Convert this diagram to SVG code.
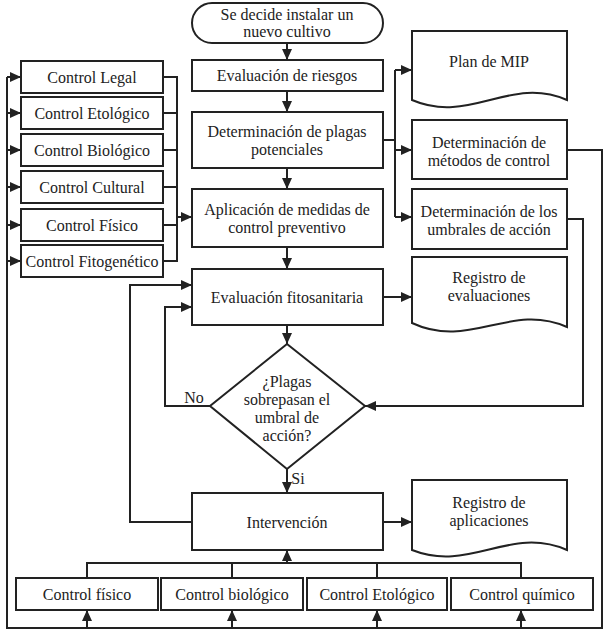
<svg xmlns="http://www.w3.org/2000/svg" width="608" height="634" viewBox="0 0 608 634">
<defs>
<marker id="ah" markerUnits="userSpaceOnUse" markerWidth="12" markerHeight="10" refX="11" refY="5" orient="auto">
<path d="M0,0 L11,5 L0,10 Z" fill="#222"/>
</marker>
<style>
.b{fill:#fff;stroke:#222;stroke-width:2}
.t{font-family:"Liberation Serif","Times New Roman",Tinos,"Noto Serif","DejaVu Serif",serif;font-size:16px;fill:#222;text-anchor:middle}
.c{fill:none;stroke:#222;stroke-width:2}
.a{fill:none;stroke:#222;stroke-width:2;marker-end:url(#ah)}
</style>
</defs>
<rect width="608" height="634" fill="#fff"/>

<g id="connectors">
<line class="a" x1="287" y1="43" x2="287" y2="60"/>
<line class="a" x1="287" y1="91" x2="287" y2="112"/>
<line class="a" x1="287" y1="168" x2="287" y2="189"/>
<line class="a" x1="287" y1="247" x2="287" y2="269"/>
<line class="a" x1="287" y1="325" x2="287" y2="344"/>
<line class="a" x1="287" y1="469" x2="287" y2="493"/>
<path class="c" d="M163,77 H177 V261 H163 M163,113 H177 M163,150 H177 M163,187 H177 M163,225 H177"/>
<line class="a" x1="177" y1="217" x2="192" y2="217"/>
<path class="c" d="M383,140 H395 M395,70 V217"/>
<line class="a" x1="395" y1="70" x2="412" y2="70"/>
<line class="a" x1="395" y1="150" x2="412" y2="150"/>
<line class="a" x1="395" y1="217" x2="412" y2="217"/>
<path class="a" d="M567,219 H583 V406 H365"/>
<line class="a" x1="383" y1="297" x2="412" y2="297"/>
<line class="a" x1="383" y1="522" x2="412" y2="522"/>
<path class="a" d="M210,406 H165 V307 H192"/>
<path class="a" d="M192,522 H130 V285 H192"/>
<path class="c" d="M87,578 V563 H521 V578 M232,578 V563 M377,578 V563"/>
<line class="a" x1="287" y1="563" x2="287" y2="550"/>
<path class="c" d="M567,150 H602 V628 H7 V77"/>
<line class="a" x1="7" y1="77" x2="21" y2="77"/>
<line class="a" x1="7" y1="113" x2="21" y2="113"/>
<line class="a" x1="7" y1="150" x2="21" y2="150"/>
<line class="a" x1="7" y1="187" x2="21" y2="187"/>
<line class="a" x1="7" y1="225" x2="21" y2="225"/>
<line class="a" x1="7" y1="261" x2="21" y2="261"/>
<line class="a" x1="87" y1="628" x2="87" y2="610"/>
<line class="a" x1="232" y1="628" x2="232" y2="610"/>
<line class="a" x1="377" y1="628" x2="377" y2="610"/>
<line class="a" x1="521" y1="628" x2="521" y2="610"/>
<text class="t" x="194" y="403">No</text>
<text class="t" x="298" y="484">Si</text>
</g>

<g id="start">
<rect class="b" x="192" y="3" width="191" height="40" rx="20" ry="20"/>
<text class="t" x="287" y="20">Se decide instalar un</text>
<text class="t" x="287" y="37">nuevo cultivo</text>
</g>
<g id="riesgos">
<rect class="b" x="192" y="60" width="191" height="31"/>
<text class="t" x="287" y="81">Evaluación de riesgos</text>
</g>
<g id="plagas">
<rect class="b" x="192" y="112" width="191" height="56"/>
<text class="t" x="287" y="137">Determinación de plagas</text>
<text class="t" x="287" y="155">potenciales</text>
</g>
<g id="aplicacion">
<rect class="b" x="192" y="189" width="191" height="58"/>
<text class="t" x="287" y="215">Aplicación de medidas de</text>
<text class="t" x="287" y="233">control preventivo</text>
</g>
<g id="evaluacion">
<rect class="b" x="192" y="269" width="191" height="56"/>
<text class="t" x="287" y="303">Evaluación fitosanitaria</text>
</g>
<g id="decision">
<polygon class="b" points="287,344 365,406 287,469 210,406"/>
<text class="t" x="287" y="387">¿Plagas</text>
<text class="t" x="287" y="405">sobrepasan el</text>
<text class="t" x="287" y="423">umbral de</text>
<text class="t" x="287" y="441">acción?</text>
</g>
<g id="intervencion">
<rect class="b" x="192" y="493" width="191" height="57"/>
<text class="t" x="287" y="528">Intervención</text>
</g>

<g id="c-legal"><rect class="b" x="21" y="61" width="142" height="32"/><text class="t" x="92" y="83">Control Legal</text></g>
<g id="c-etologico"><rect class="b" x="21" y="97" width="142" height="32"/><text class="t" x="92" y="119">Control Etológico</text></g>
<g id="c-biologico"><rect class="b" x="21" y="134" width="142" height="32"/><text class="t" x="92" y="156">Control Biológico</text></g>
<g id="c-cultural"><rect class="b" x="21" y="171" width="142" height="32"/><text class="t" x="92" y="193">Control Cultural</text></g>
<g id="c-fisico"><rect class="b" x="21" y="209" width="142" height="32"/><text class="t" x="92" y="231">Control Físico</text></g>
<g id="c-fitogenetico"><rect class="b" x="21" y="245" width="142" height="32"/><text class="t" x="92" y="267">Control Fitogenético</text></g>

<g id="plan-mip">
<path class="b" d="M412,31 H567 V100 C510,75 470,125 412,100 Z"/>
<text class="t" x="489" y="67">Plan de MIP</text>
</g>
<g id="metodos">
<rect class="b" x="412" y="120" width="155" height="59"/>
<text class="t" x="489" y="148">Determinación de</text>
<text class="t" x="489" y="166">métodos de control</text>
</g>
<g id="umbrales">
<rect class="b" x="412" y="189" width="155" height="60"/>
<text class="t" x="489" y="217">Determinación de los</text>
<text class="t" x="489" y="235">umbrales de acción</text>
</g>
<g id="reg-eval">
<path class="b" d="M412,257 H567 V327 C510,302 470,350 412,323 Z"/>
<text class="t" x="489" y="283">Registro de</text>
<text class="t" x="489" y="301">evaluaciones</text>
</g>
<g id="reg-apl">
<path class="b" d="M412,480 H567 V550 C510,525 470,573 412,550 Z"/>
<text class="t" x="489" y="508">Registro de</text>
<text class="t" x="489" y="526">aplicaciones</text>
</g>

<g id="b-fisico"><rect class="b" x="16" y="578" width="142" height="32"/><text class="t" x="87" y="600">Control físico</text></g>
<g id="b-biologico"><rect class="b" x="161" y="578" width="142" height="32"/><text class="t" x="232" y="600">Control biológico</text></g>
<g id="b-etologico"><rect class="b" x="307" y="578" width="140" height="32"/><text class="t" x="377" y="600">Control Etológico</text></g>
<g id="b-quimico"><rect class="b" x="451" y="578" width="142" height="32"/><text class="t" x="522" y="600">Control químico</text></g>
</svg>
